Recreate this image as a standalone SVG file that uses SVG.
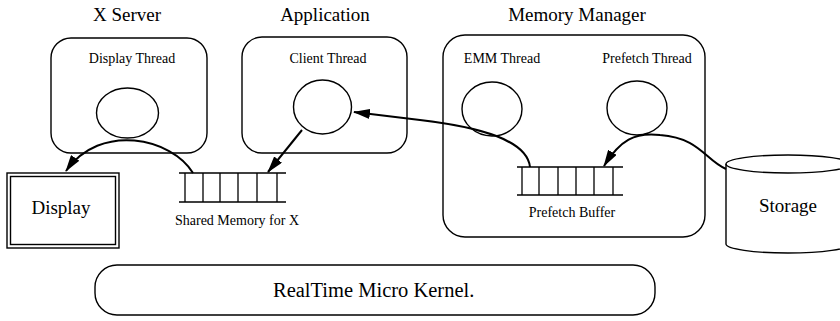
<svg xmlns="http://www.w3.org/2000/svg" width="840" height="321" viewBox="0 0 840 321">
<style>
.box{fill:none;stroke:#000;stroke-width:1.4}
.th{fill:none;stroke:#000;stroke-width:1.4}
.conn{fill:none;stroke:#000;stroke-width:2}
.buf{fill:none;stroke:#000;stroke-width:1.3}
.t{font-family:"Liberation Serif",serif;fill:#000;text-anchor:middle}
.big{font-size:19px}
.sm{font-size:14px}
</style>
<defs>
<marker id="arr" markerUnits="userSpaceOnUse" markerWidth="17" markerHeight="10" refX="16" refY="5" orient="auto">
<path d="M0,0 L17,5 L0,10 Z" fill="#000"/>
</marker>
</defs>
<rect width="840" height="321" fill="#fff"/>
<g id="xserver">
<text class="t big" x="127" y="21">X Server</text>
<rect class="box" x="51" y="38" width="156" height="115" rx="20"/>
<text class="t sm" x="132" y="63">Display Thread</text>
<ellipse class="th" cx="127.5" cy="113" rx="31" ry="25"/>
</g>
<g id="application">
<text class="t big" x="325" y="21">Application</text>
<rect class="box" x="242" y="37" width="165" height="116" rx="20"/>
<text class="t sm" x="328" y="63">Client Thread</text>
<ellipse class="th" cx="322.5" cy="107" rx="29" ry="27"/>
</g>
<g id="memorymanager">
<text class="t big" x="577" y="21">Memory Manager</text>
<rect class="box" x="443" y="35" width="262" height="202" rx="22"/>
<text class="t sm" x="502" y="63">EMM Thread</text>
<text class="t sm" x="647" y="63">Prefetch Thread</text>
<ellipse class="th" cx="492" cy="109" rx="30" ry="27"/>
<ellipse class="th" cx="637" cy="108" rx="30" ry="27"/>
</g>
<g id="sharedmemory">
<path class="buf" d="M179,173 H286 M179,202 H286 M185,173 V202 M203,173 V202 M220,173 V202 M238,173 V202 M257,173 V202 M277,173 V202"/>
<text class="t sm" x="237" y="225">Shared Memory for X</text>
</g>
<g id="prefetchbuffer">
<path class="buf" d="M517,167 H623 M517,195 H623 M522,167 V195 M539,167 V195 M558,167 V195 M576,167 V195 M594,167 V195 M613,167 V195"/>
<text class="t sm" x="572" y="217">Prefetch Buffer</text>
</g>
<g id="display">
<rect class="box" x="7" y="173" width="112" height="75"/>
<rect class="box" x="10.5" y="176.5" width="105" height="68"/>
<text class="t big" x="61" y="214">Display</text>
</g>
<g id="storage">
<path class="box" d="M726,164 V244 A62,9 0 0 0 850,244 V164"/>
<ellipse class="box" cx="788" cy="164" rx="62" ry="9"/>
<text class="t big" x="788" y="212">Storage</text>
</g>
<g id="kernel">
<rect class="box" x="95" y="265" width="560" height="50" rx="22"/>
<text class="t" style="font-size:20.5px;text-anchor:start" x="273" y="297">RealTime Micro Kernel.</text>
</g>
<g id="connectors">
<path class="conn" d="M193,173 C172,138 100,122 66,171" marker-end="url(#arr)"/>
<path class="conn" d="M302,130 L268,172" marker-end="url(#arr)"/>
<path class="conn" d="M530,167 C527,140 480,127 420,120 L354,112" marker-end="url(#arr)"/>
<path class="conn" d="M726,169 C705,160 700,138 660,135 C635,132 620,140 604,166" marker-end="url(#arr)"/>
</g>
</svg>
